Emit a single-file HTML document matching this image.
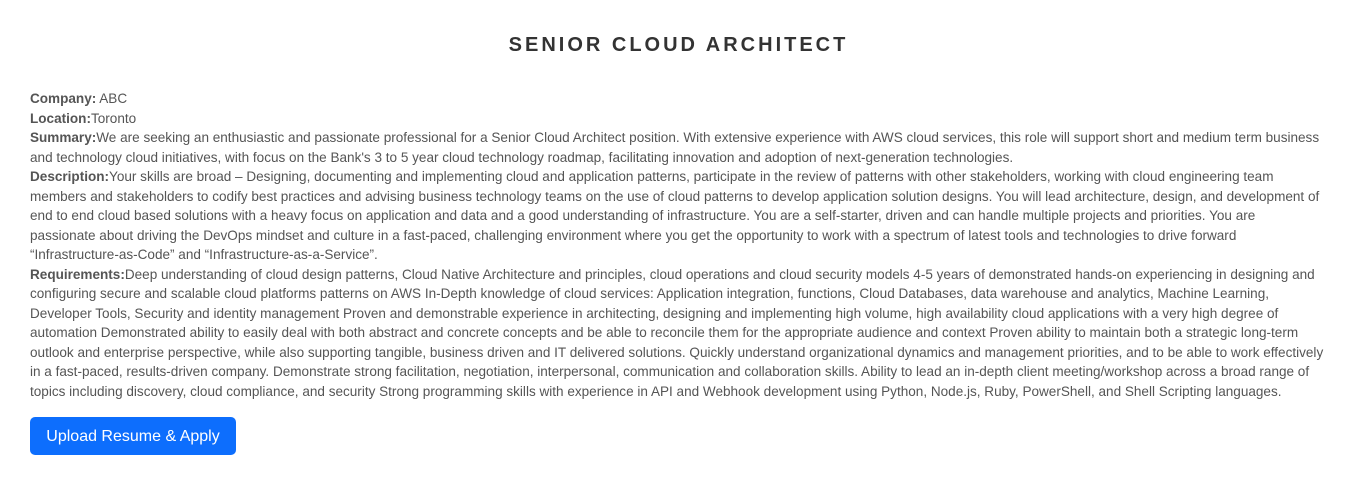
<!DOCTYPE html>
<html><head><meta charset="utf-8"><style>
body{margin:0;width:1357px;height:491px;background:#fff;font-family:"Liberation Sans",sans-serif;overflow:hidden;position:relative}
h1{position:absolute;top:32px;left:0;width:1357px;text-align:center;margin:0;font-size:20px;font-weight:bold;letter-spacing:3px;color:#333;line-height:26px}
.t{position:absolute;left:30px;top:89px;font-size:13.55px;line-height:19.5px;color:#555;white-space:nowrap}
.t b{color:#555}
.btn{position:absolute;left:30px;top:417px;width:206px;height:38px;background:#0d6efd;border-radius:5px;color:#fff;font-size:16px;line-height:39px;text-align:center}
</style></head><body>
<h1>SENIOR CLOUD ARCHITECT</h1>
<div class="t">
<b>Company:</b> ABC<br>
<b>Location:</b>Toronto<br>
<b>Summary:</b>We are seeking an enthusiastic and passionate professional for a Senior Cloud Architect position. With extensive experience with AWS cloud services, this role will support short and medium term business<br>
and technology cloud initiatives, with focus on the Bank's 3 to 5 year cloud technology roadmap, facilitating innovation and adoption of next-generation technologies.<br>
<b>Description:</b>Your skills are broad – Designing, documenting and implementing cloud and application patterns, participate in the review of patterns with other stakeholders, working with cloud engineering team<br>
members and stakeholders to codify best practices and advising business technology teams on the use of cloud patterns to develop application solution designs. You will lead architecture, design, and development of<br>
end to end cloud based solutions with a heavy focus on application and data and a good understanding of infrastructure. You are a self-starter, driven and can handle multiple projects and priorities. You are<br>
passionate about driving the DevOps mindset and culture in a fast-paced, challenging environment where you get the opportunity to work with a spectrum of latest tools and technologies to drive forward<br>
“Infrastructure-as-Code” and “Infrastructure-as-a-Service”.<br>
<b>Requirements:</b>Deep understanding of cloud design patterns, Cloud Native Architecture and principles, cloud operations and cloud security models 4-5 years of demonstrated hands-on experiencing in designing and<br>
configuring secure and scalable cloud platforms patterns on AWS In-Depth knowledge of cloud services: Application integration, functions, Cloud Databases, data warehouse and analytics, Machine Learning,<br>
Developer Tools, Security and identity management Proven and demonstrable experience in architecting, designing and implementing high volume, high availability cloud applications with a very high degree of<br>
automation Demonstrated ability to easily deal with both abstract and concrete concepts and be able to reconcile them for the appropriate audience and context Proven ability to maintain both a strategic long-term<br>
outlook and enterprise perspective, while also supporting tangible, business driven and IT delivered solutions. Quickly understand organizational dynamics and management priorities, and to be able to work effectively<br>
in a fast-paced, results-driven company. Demonstrate strong facilitation, negotiation, interpersonal, communication and collaboration skills. Ability to lead an in-depth client meeting/workshop across a broad range of<br>
topics including discovery, cloud compliance, and security Strong programming skills with experience in API and Webhook development using Python, Node.js, Ruby, PowerShell, and Shell Scripting languages.
</div>
<div class="btn">Upload Resume &amp; Apply</div>
</body></html>
